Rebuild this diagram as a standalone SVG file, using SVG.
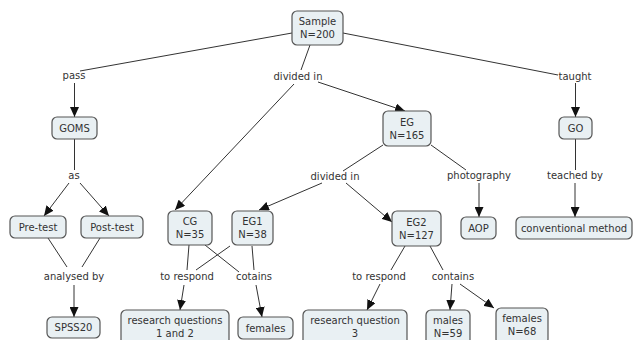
<svg xmlns="http://www.w3.org/2000/svg" width="633" height="340" viewBox="0 0 633 340">
<defs>
<marker id="ah" markerUnits="userSpaceOnUse" markerWidth="10" markerHeight="9" refX="10" refY="4.5" orient="auto">
<path d="M0,0 L10,4.5 L0,9 z" fill="#111"/>
</marker>
<style>
.n rect{fill:#e9f0f3;stroke:#555;stroke-width:1.2}
text{font-family:"DejaVu Sans",Verdana,sans-serif;font-size:10px;fill:#333;text-anchor:middle}
.c line{stroke:#333;stroke-width:1}
.c line.a{marker-end:url(#ah)}
</style>
</defs>
<rect width="633" height="340" fill="#fff"/>
<g class="c" id="connectors">
<line x1="292" y1="33" x2="80" y2="71"/>
<line class="a" x1="74.5" y1="83" x2="74.5" y2="117"/>
<line x1="310" y1="45" x2="301" y2="70"/>
<line class="a" x1="294" y1="84" x2="175" y2="210"/>
<line class="a" x1="318" y1="82" x2="405" y2="111"/>
<line x1="343" y1="33" x2="558" y2="75"/>
<line class="a" x1="575.5" y1="83" x2="575.5" y2="117"/>
<line x1="74.5" y1="139" x2="74.5" y2="170"/>
<line class="a" x1="69" y1="183" x2="44" y2="216"/>
<line class="a" x1="80" y1="183" x2="109" y2="216"/>
<line x1="48" y1="238" x2="67" y2="267"/>
<line x1="100" y1="238" x2="82" y2="267"/>
<line class="a" x1="74" y1="285" x2="74" y2="317"/>
<line x1="383" y1="145" x2="343" y2="171"/>
<line class="a" x1="322" y1="183" x2="259" y2="210"/>
<line class="a" x1="346" y1="183" x2="392" y2="222"/>
<line x1="431" y1="145" x2="466" y2="170"/>
<line class="a" x1="479" y1="183" x2="479" y2="217"/>
<line x1="575.5" y1="139" x2="575.5" y2="170"/>
<line class="a" x1="575" y1="183" x2="575" y2="217"/>
<line x1="189" y1="245" x2="187" y2="270"/>
<line class="a" x1="184" y1="285" x2="180" y2="310"/>
<line x1="230" y1="246" x2="196" y2="270"/>
<line x1="205" y1="245" x2="239" y2="272"/>
<line x1="252" y1="246" x2="254" y2="270"/>
<line class="a" x1="256" y1="285" x2="262" y2="317"/>
<line x1="405" y1="246" x2="391" y2="270"/>
<line class="a" x1="380" y1="284" x2="367" y2="310"/>
<line x1="430" y1="246" x2="443" y2="270"/>
<line class="a" x1="452" y1="284" x2="450" y2="310"/>
<line class="a" x1="460" y1="284" x2="494" y2="308"/>
</g>
<g id="labels">
<text x="74" y="79">pass</text>
<text x="298" y="80">divided in</text>
<text x="575" y="80">taught</text>
<text x="74" y="179">as</text>
<text x="335" y="180">divided in</text>
<text x="479" y="179">photography</text>
<text x="575" y="179">teached by</text>
<text x="74" y="280">analysed by</text>
<text x="187" y="280">to respond</text>
<text x="254" y="280">cotains</text>
<text x="379" y="280">to respond</text>
<text x="453" y="280">contains</text>
</g>
<g class="n" id="sample"><rect x="292" y="11" width="51" height="34" rx="5"/><text x="317.5" y="25">Sample</text><text x="317.5" y="38">N=200</text></g>
<g class="n" id="goms"><rect x="52" y="117" width="45" height="22" rx="5"/><text x="74.5" y="131.5">GOMS</text></g>
<g class="n" id="eg"><rect x="383" y="111" width="48" height="35" rx="5"/><text x="407" y="125.5">EG</text><text x="407" y="138.5">N=165</text></g>
<g class="n" id="go"><rect x="559" y="117" width="33" height="22" rx="5"/><text x="575.5" y="131.5">GO</text></g>
<g class="n" id="pretest"><rect x="10" y="216" width="56" height="22" rx="5"/><text x="38" y="230.5">Pre-test</text></g>
<g class="n" id="posttest"><rect x="81" y="216" width="62" height="22" rx="5"/><text x="112" y="230.5">Post-test</text></g>
<g class="n" id="spss"><rect x="47" y="317" width="53" height="21" rx="5"/><text x="73.5" y="331">SPSS20</text></g>
<g class="n" id="cg"><rect x="168" y="211" width="44" height="34" rx="5"/><text x="190" y="225">CG</text><text x="190" y="238">N=35</text></g>
<g class="n" id="eg1"><rect x="232" y="211" width="41" height="34" rx="5"/><text x="252.5" y="225">EG1</text><text x="252.5" y="238">N=38</text></g>
<g class="n" id="eg2"><rect x="392" y="211" width="49" height="35" rx="5"/><text x="416.5" y="225.5">EG2</text><text x="416.5" y="238.5">N=127</text></g>
<g class="n" id="aop"><rect x="461" y="217" width="35" height="22" rx="5"/><text x="478.5" y="231.5">AOP</text></g>
<g class="n" id="conv"><rect x="516" y="217" width="116" height="22" rx="5"/><text x="574" y="231.5">conventional method</text></g>
<g class="n" id="rq12"><rect x="121" y="310" width="108" height="36" rx="5"/><text x="175" y="324">research questions</text><text x="175" y="337">1 and 2</text></g>
<g class="n" id="females1"><rect x="238" y="317" width="55" height="22" rx="5"/><text x="265.5" y="331.5">females</text></g>
<g class="n" id="rq3"><rect x="303" y="310" width="104" height="36" rx="5"/><text x="355" y="324">research question</text><text x="355" y="337">3</text></g>
<g class="n" id="males"><rect x="426" y="310" width="44" height="36" rx="5"/><text x="448" y="324">males</text><text x="448" y="337">N=59</text></g>
<g class="n" id="females2"><rect x="496" y="308" width="52" height="36" rx="5"/><text x="522" y="322">females</text><text x="522" y="335">N=68</text></g>
</svg>
